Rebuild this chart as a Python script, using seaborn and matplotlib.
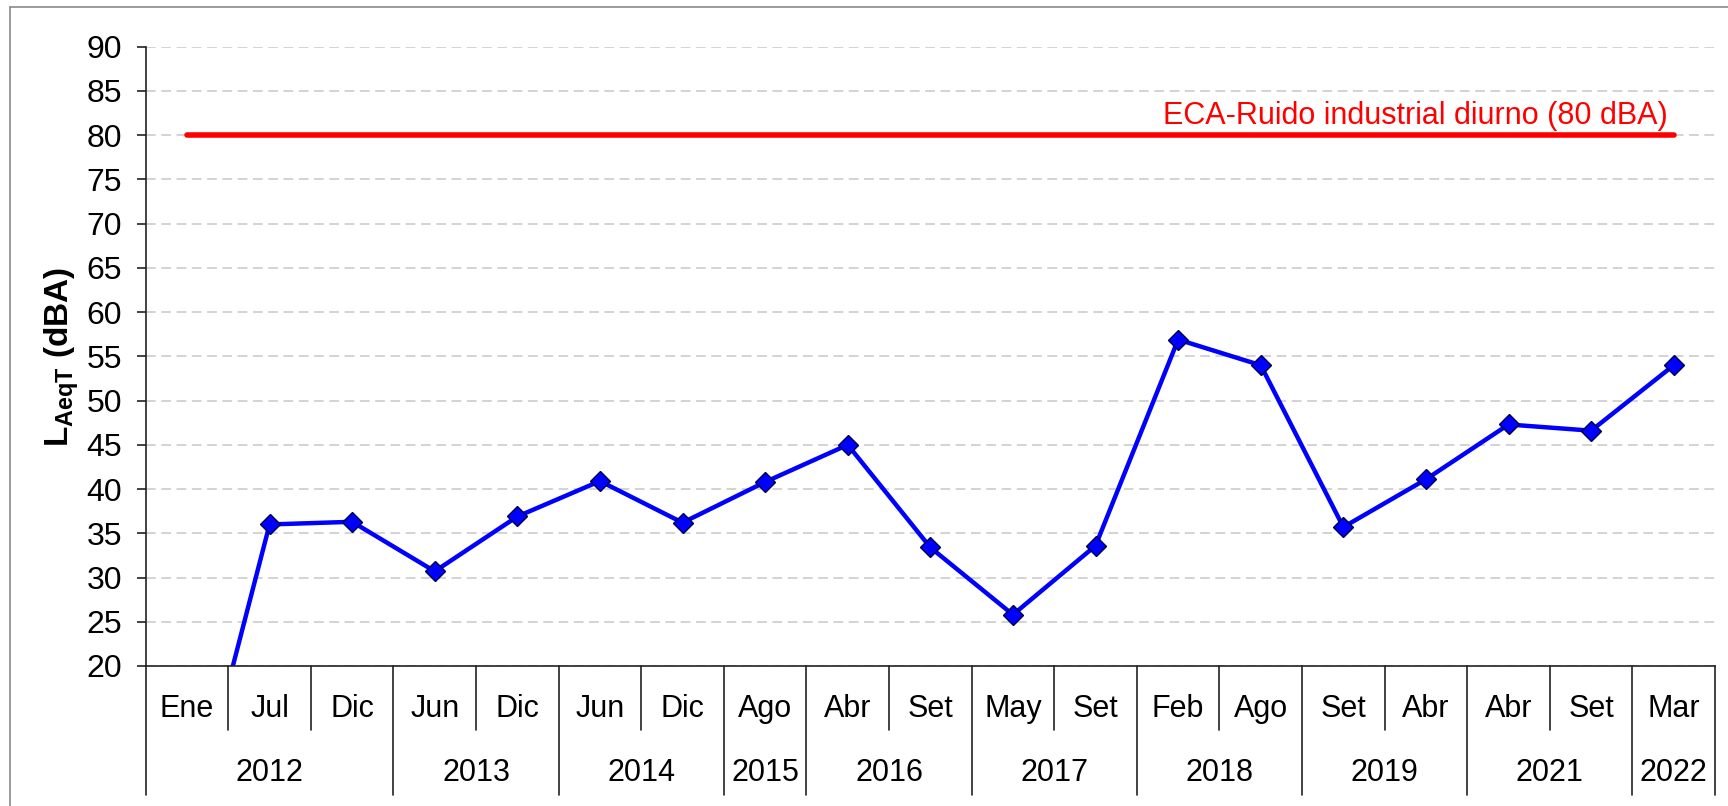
import matplotlib
matplotlib.use("Agg")
import matplotlib.pyplot as plt
import matplotlib.transforms as mtransforms
from matplotlib.lines import Line2D
import pandas as pd
import seaborn as sns

# monitoring campaigns (two-level category axis)
months = ['Ene', 'Jul', 'Dic', 'Jun', 'Dic', 'Jun', 'Dic', 'Ago', 'Abr', 'Set',
          'May', 'Set', 'Feb', 'Ago', 'Set', 'Abr', 'Abr', 'Set', 'Mar']
years = ['2012', '2012', '2012', '2013', '2013', '2014', '2014', '2015', '2016', '2016',
         '2017', '2017', '2018', '2018', '2019', '2019', '2021', '2021', '2022']
laeq = [0.0, 36.0, 36.3, 30.7, 36.9, 40.9, 36.2, 40.8, 45.0, 33.4,
        25.8, 33.6, 56.9, 54.0, 35.7, 41.1, 47.3, 46.6, 54.0]
eca_limit = [80] * len(months)
eca_label = 'ECA-Ruido industrial diurno (80 dBA)'

sns.set_style('white')
plt.rcParams['font.family'] = ['Liberation Sans', 'DejaVu Sans']
plt.rcParams['text.color'] = 'black'
plt.rcParams['axes.labelcolor'] = 'black'
plt.rcParams['ytick.color'] = 'black'
plt.rcParams['mathtext.fontset'] = 'custom'
plt.rcParams['mathtext.rm'] = 'Liberation Sans'
plt.rcParams['mathtext.bf'] = 'Liberation Sans:bold'
plt.rcParams['lines.scale_dashes'] = False

df = pd.DataFrame({'pos': range(len(months)), 'laeq': laeq, 'eca': eca_limit})

fig = plt.figure(figsize=(17.28, 8.06), dpi=100)
ax = fig.add_axes([0.0843, 0.1737, 0.9082, 0.7683])

sns.lineplot(data=df, x='pos', y='eca', color='#ff0000', linewidth=4.0, ax=ax)
sns.lineplot(data=df, x='pos', y='laeq', color='#0000ff', linewidth=3.2,
             marker='D', markersize=10, markeredgecolor='#000050',
             markeredgewidth=1.0, ax=ax)

ax.text(14.87, 81.25, eca_label, color='#ff0000', fontsize=22, ha='center',
        va='baseline')

ax.set_xlim(-0.5, len(months) - 0.5)
ax.set_ylim(20, 90)
ax.set_yticks(range(20, 91, 5))
ax.yaxis.grid(True, color='#c8c8c8', linewidth=1.1, linestyle=(0, (7, 4)))
ax.set_axisbelow(True)
ax.tick_params(axis='y', left=True, direction='out', length=6.5, width=1.2,
               color='#222222', labelcolor='black', labelsize=23, pad=10.5)
ax.set_xticks([])
ax.set_xlabel('')
for side in ['top', 'right']:
    ax.spines[side].set_visible(False)
for side in ['left', 'bottom']:
    ax.spines[side].set_color('#222222')
    ax.spines[side].set_linewidth(1.2)

ax.set_ylabel(r'$\mathbf{L_{AeqT}}$ (dBA)', fontsize=24, fontweight='bold')
ax.yaxis.set_label_coords(-0.041, 0.5)

# two-level category axis below the plot
trans = mtransforms.blended_transform_factory(ax.transData, ax.transAxes)
month_y, year_y = -0.07, -0.172
month_sep, year_sep = -0.103, -0.208
for i, m in enumerate(months):
    ax.text(i, month_y, m, transform=trans, ha='center', va='center', fontsize=22)
groups = []
for i, y in enumerate(years):
    if not groups or groups[-1][0] != y:
        groups.append([y, i, i])
    else:
        groups[-1][2] = i
for y, a, b in groups:
    ax.text((a + b) / 2, year_y, y, transform=trans, ha='center', va='center', fontsize=22)

n = len(months)
for i in range(n + 1):
    xb = i - 0.5
    is_year = i == 0 or i == n or years[i] != years[i - 1]
    y_end = year_sep if is_year else month_sep
    ax.add_line(Line2D([xb, xb], [0, y_end], transform=trans, color='#222222',
                       linewidth=1.2, clip_on=False))

# outer chart-area frame (top and left edges visible)
fig.add_artist(Line2D([0.0056, 1.0], [0.9917, 0.9917], color='#8a8a8a', linewidth=1.2))
fig.add_artist(Line2D([0.0056, 0.0056], [0.0, 0.9917], color='#8a8a8a', linewidth=1.2))

fig.savefig('out.png', dpi=100)
